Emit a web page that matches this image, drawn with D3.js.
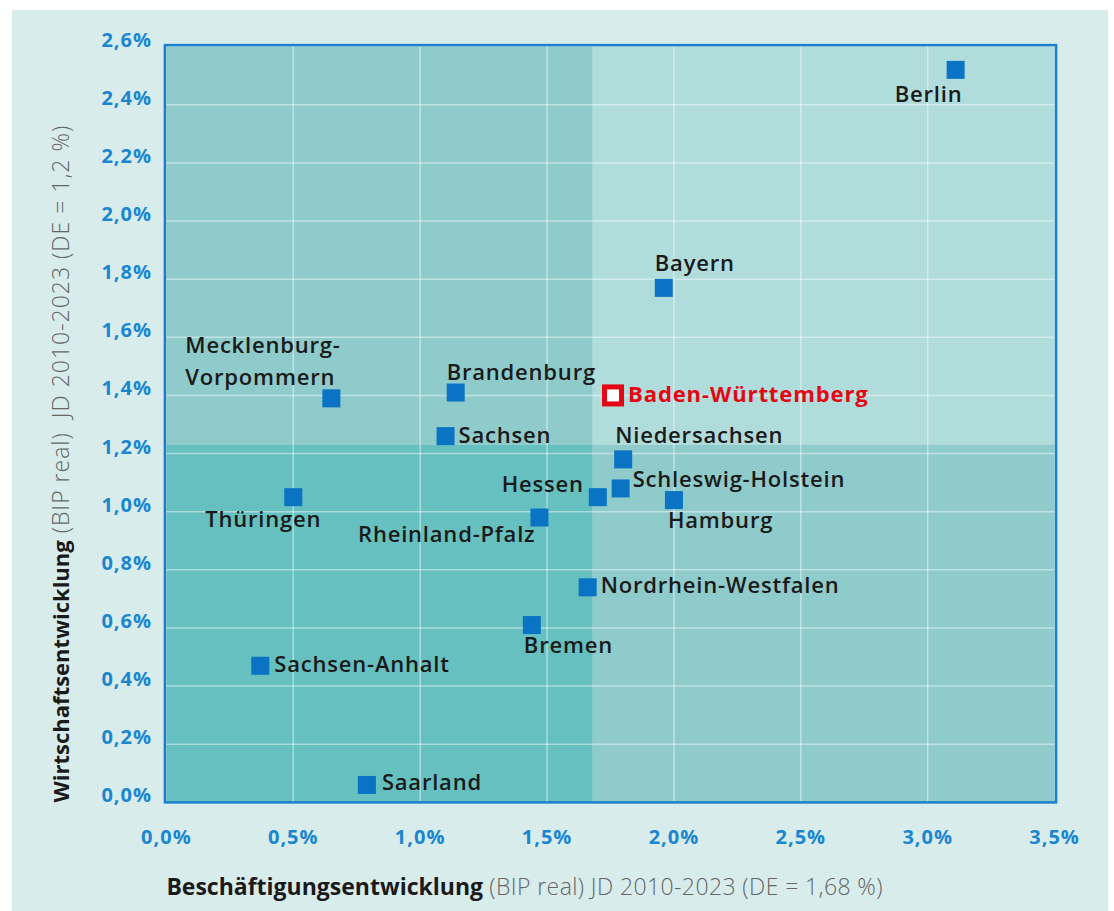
<!DOCTYPE html>
<html>
<head>
<meta charset="utf-8">
<script src="https://cdn.jsdelivr.net/npm/d3@7"></script>
<style>
  body { margin: 0; background: #ffffff; }
  svg { display: block; }
  text { font-family: "Open Sans", "Noto Sans", sans-serif; }
</style>
</head>
<body>
<div id="scatter"></div>
<script>
// Data
var states = ["Berlin", "Bayern", "Baden-Württemberg", "Brandenburg", "Mecklenburg-Vorpommern",
  "Sachsen", "Niedersachsen", "Schleswig-Holstein", "Hessen", "Hamburg", "Thüringen",
  "Rheinland-Pfalz", "Nordrhein-Westfalen", "Bremen", "Sachsen-Anhalt", "Saarland"];
var employment = [3.11, 1.96, 1.76, 1.14, 0.65, 1.10, 1.80, 1.79, 1.70, 2.00, 0.50, 1.47, 1.66, 1.44, 0.37, 0.79];
var gdp = [2.52, 1.77, 1.40, 1.41, 1.39, 1.26, 1.18, 1.08, 1.05, 1.04, 1.05, 0.98, 0.74, 0.61, 0.47, 0.06];
var highlight = "Baden-Württemberg";

var xTicks = [0, 0.5, 1.0, 1.5, 2.0, 2.5, 3.0, 3.5];
var yTicks = [0, 0.2, 0.4, 0.6, 0.8, 1.0, 1.2, 1.4, 1.6, 1.8, 2.0, 2.2, 2.4, 2.6];

// Germany averages (quadrant split)
var deEmployment = 1.68;
var deGdp = 1.23;

// label placement next to each marker: dx, dy, anchor
var labelPos = {
  "Berlin": [-27, 32, "middle"],
  "Bayern": [-9, -17, "start"],
  "Baden-Württemberg": [15, 7, "start"],
  "Brandenburg": [-9, -13, "start"],
  "Mecklenburg-Vorpommern": [-146, -45, "start"],
  "Sachsen": [13, 7, "start"],
  "Niedersachsen": [-8, -16, "start"],
  "Schleswig-Holstein": [12, -1, "start"],
  "Hessen": [-14, -5, "end"],
  "Hamburg": [-6, 28, "start"],
  "Thüringen": [28, 30, "end"],
  "Rheinland-Pfalz": [-4, 24, "end"],
  "Nordrhein-Westfalen": [13, 6, "start"],
  "Bremen": [-8, 28, "start"],
  "Sachsen-Anhalt": [14, 6, "start"],
  "Saarland": [15, 5, "start"]
};

var svgWidth = 1114;
var svgHeight = 911;

var svg = d3.select("#scatter")
  .append("svg")
  .attr("width", svgWidth)
  .attr("height", svgHeight);

// light panel behind everything
svg.append("rect")
  .attr("x", 12)
  .attr("y", 10)
  .attr("width", 1096)
  .attr("height", 901)
  .attr("fill", "#d9ecec");

var xScale = d3.scaleLinear().domain([0, 3.5]).range([166.4, 1054.6]);
var yScale = d3.scaleLinear().domain([0, 2.6]).range([802.4, 46.6]);

var x0 = xScale(0), x1 = xScale(3.5), y0 = yScale(0), y1 = yScale(2.6);
var xm = xScale(deEmployment), ym = yScale(deGdp);

// quadrants
var quads = [
  [x0, y1, xm, ym, "#8fcbcb"],
  [xm, y1, x1, ym, "#b0dcdb"],
  [x0, ym, xm, y0, "#66c0c0"],
  [xm, ym, x1, y0, "#8ecbca"]
];
svg.selectAll("rect.quad").data(quads).enter()
  .append("rect")
  .attr("class", "quad")
  .attr("x", d => d[0])
  .attr("y", d => d[1])
  .attr("width", d => d[2] - d[0])
  .attr("height", d => d[3] - d[1])
  .attr("fill", d => d[4]);

// grid
svg.selectAll("line.vgrid").data(xTicks.slice(1, -1)).enter()
  .append("line")
  .attr("x1", d => xScale(d)).attr("x2", d => xScale(d))
  .attr("y1", y1).attr("y2", y0)
  .attr("stroke", "#ffffff").attr("stroke-opacity", 0.45).attr("stroke-width", 1.5);

svg.selectAll("line.hgrid").data(yTicks.slice(1, -1)).enter()
  .append("line")
  .attr("y1", d => yScale(d)).attr("y2", d => yScale(d))
  .attr("x1", x0).attr("x2", x1)
  .attr("stroke", "#ffffff").attr("stroke-opacity", 0.45).attr("stroke-width", 1.5);

// frame
svg.append("rect")
  .attr("x", x0 - 1.5)
  .attr("y", y1 - 1.5)
  .attr("width", x1 - x0 + 3)
  .attr("height", y0 - y1 + 1.5)
  .attr("fill", "none")
  .attr("stroke", "#1a80cc")
  .attr("stroke-width", 2.5);

var fmt = (v, n) => d3.format("." + n + "f")(v).replace(".", ",") + "%";

// tick labels
svg.selectAll("text.ytick").data(yTicks).enter()
  .append("text")
  .attr("x", 152)
  .attr("y", d => yScale(d))
  .attr("text-anchor", "end")
  .attr("font-size", 20)
  .attr("font-weight", 700)
  .attr("letter-spacing", 1)
  .attr("fill", "#1a86d0")
  .text(d => fmt(d, 1));

svg.selectAll("text.xtick").data(xTicks).enter()
  .append("text")
  .attr("x", d => xScale(d))
  .attr("y", 844)
  .attr("text-anchor", "middle")
  .attr("font-size", 20)
  .attr("font-weight", 700)
  .attr("letter-spacing", 1)
  .attr("fill", "#1a86d0")
  .text(d => fmt(d, 1));

// axis titles
var xTitle = svg.append("text")
  .attr("x", x0)
  .attr("y", 895)
  .attr("font-size", 23);
xTitle.append("tspan").attr("font-weight", 700).attr("fill", "#1a1a1a").text("Beschäftigungsentwicklung");
xTitle.append("tspan").attr("font-weight", 300).attr("fill", "#666666").attr("letter-spacing", 0.4)
  .text(" (BIP real) JD 2010-2023 (DE = 1,68 %)");

var yTitle = svg.append("text")
  .attr("transform", `translate(69, ${y0}) rotate(-90)`)
  .attr("xml:space", "preserve");
yTitle.append("tspan").attr("font-size", 22).attr("font-weight", 700).attr("fill", "#1a1a1a").text("Wirtschaftsentwicklung");
yTitle.append("tspan").attr("font-size", 23).attr("font-weight", 300).attr("fill", "#666666").attr("letter-spacing", 1)
  .text(" (BIP real)  JD 2010-2023 (DE = 1,2 %)");

// points
var pts = states.map((s, i) => ({ name: s, x: employment[i], y: gdp[i] }));

svg.selectAll("rect.pt").data(pts.filter(d => d.name !== highlight)).enter()
  .append("rect")
  .attr("class", "pt")
  .attr("x", d => xScale(d.x) - 9)
  .attr("y", d => yScale(d.y) - 9)
  .attr("width", 18)
  .attr("height", 18)
  .attr("fill", "#0a73c4");

svg.selectAll("rect.hl").data(pts.filter(d => d.name === highlight)).enter()
  .append("rect")
  .attr("class", "hl")
  .attr("x", d => xScale(d.x) - 8.5)
  .attr("y", d => yScale(d.y) - 8.5)
  .attr("width", 17)
  .attr("height", 17)
  .attr("fill", "#ffffff")
  .attr("stroke", "#e30613")
  .attr("stroke-width", 5);

// labels
var labels = svg.selectAll("text.lbl").data(pts).enter()
  .append("text")
  .attr("class", "lbl")
  .attr("x", d => xScale(d.x) + labelPos[d.name][0])
  .attr("y", d => yScale(d.y) + labelPos[d.name][1])
  .attr("text-anchor", d => labelPos[d.name][2])
  .attr("font-size", 22)
  .attr("font-weight", d => d.name === highlight ? 700 : 600)
  .attr("letter-spacing", d => d.name === highlight ? 0.9 : 0.8)
  .attr("fill", d => d.name === highlight ? "#e30613" : "#1a1a1a");

labels.each(function(d) {
  var t = d3.select(this);
  if (d.name === "Mecklenburg-Vorpommern") {
    t.append("tspan").text("Mecklenburg-");
    t.append("tspan").attr("x", xScale(d.x) + labelPos[d.name][0]).attr("dy", 32).text("Vorpommern");
  } else {
    t.text(d.name);
  }
});
</script>
</body>
</html>
